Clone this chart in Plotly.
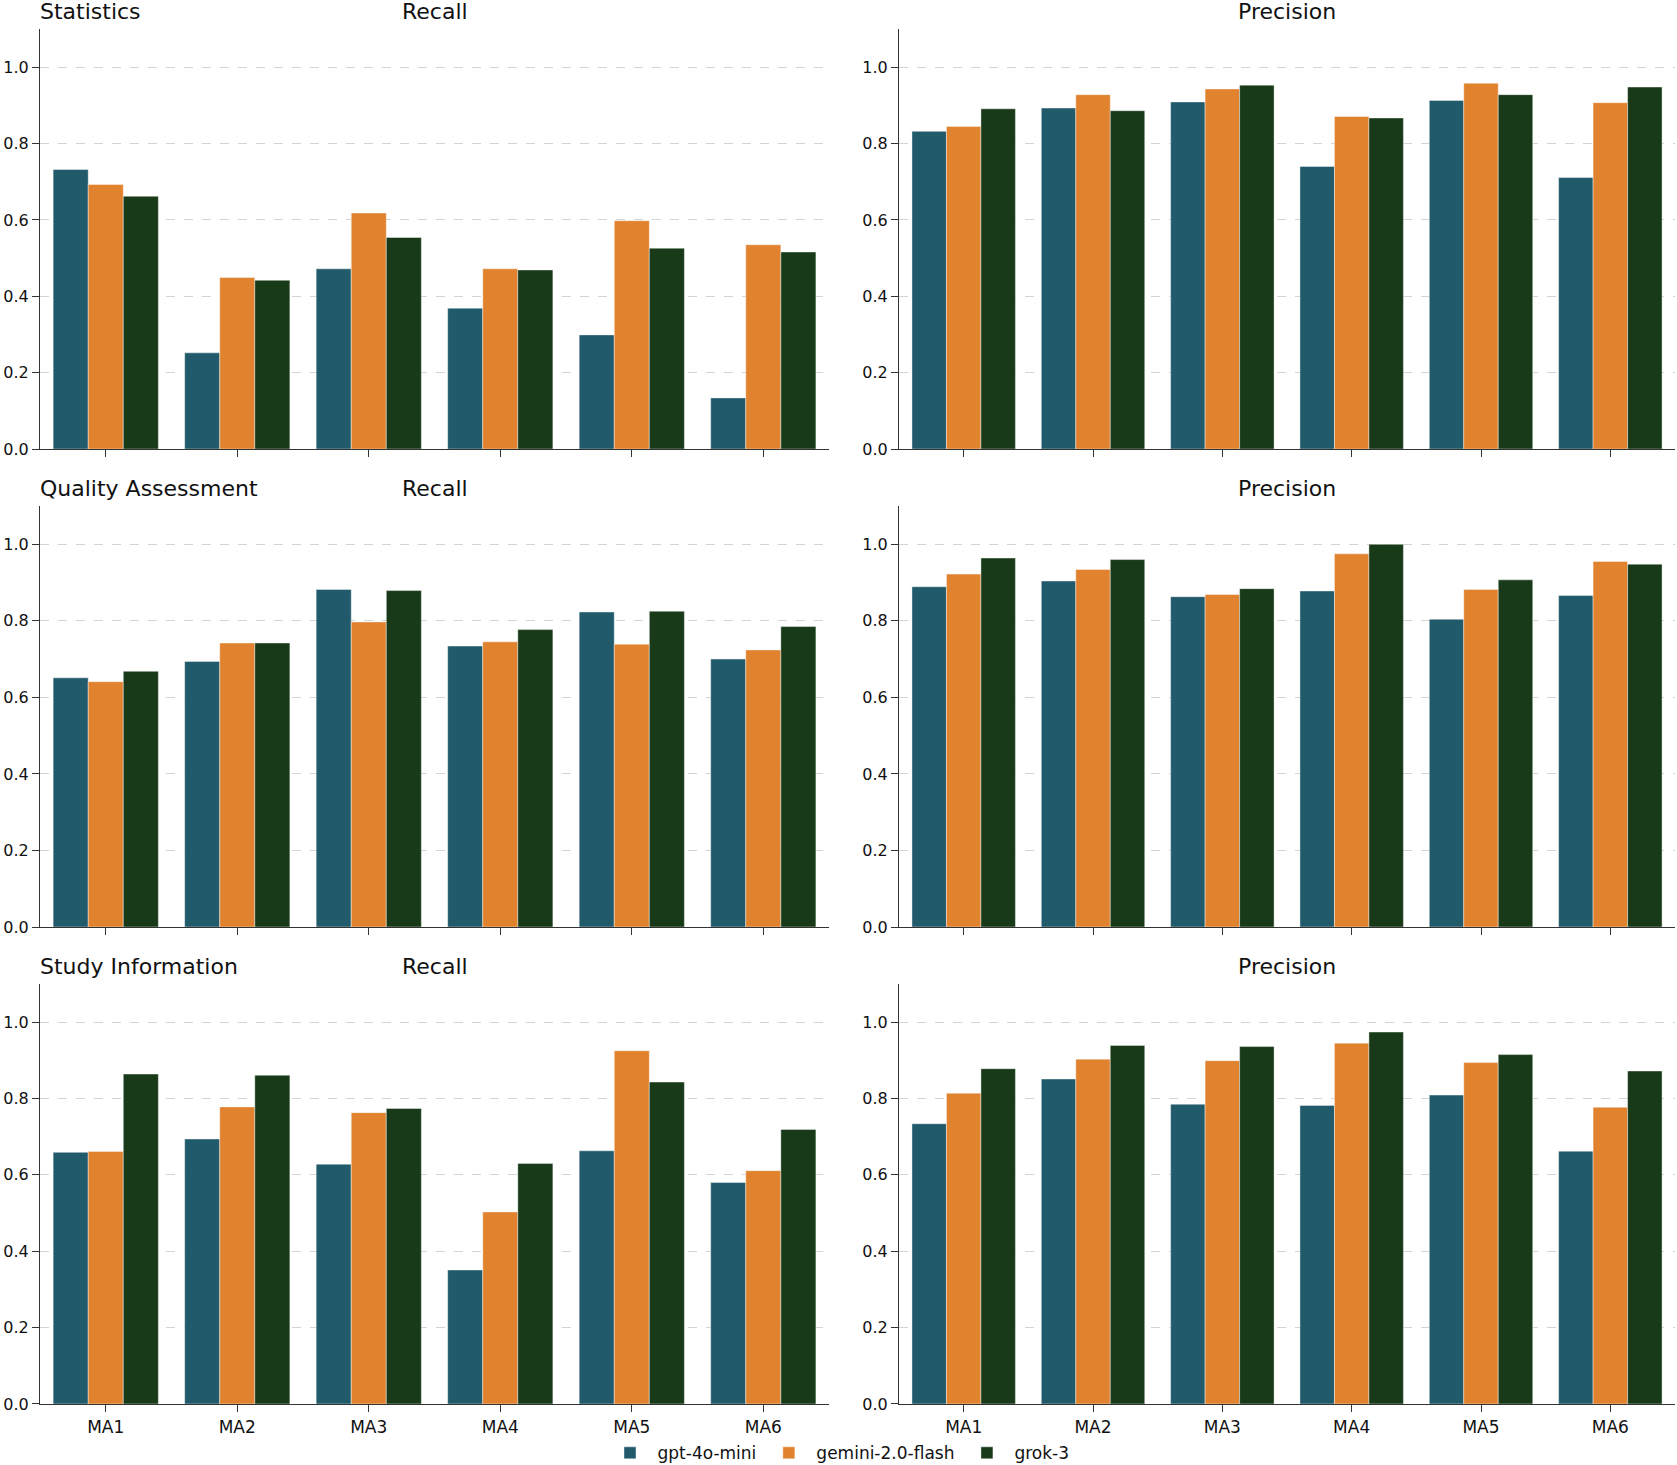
import plotly.graph_objects as go

# categories and models
ma_labels = ["MA1", "MA2", "MA3", "MA4", "MA5", "MA6"]
models = ["gpt-4o-mini", "gemini-2.0-flash", "grok-3"]
colors = ["#215a6b", "#e0822e", "#183a18"]

# values, one row per model (gpt, gemini, grok)
stats_recall = [
    [0.732, 0.252, 0.472, 0.369, 0.299, 0.134],
    [0.693, 0.449, 0.618, 0.472, 0.598, 0.535],
    [0.662, 0.442, 0.554, 0.469, 0.526, 0.516],
]
stats_precision = [
    [0.832, 0.893, 0.909, 0.740, 0.913, 0.711],
    [0.845, 0.928, 0.943, 0.871, 0.958, 0.907],
    [0.891, 0.886, 0.953, 0.867, 0.928, 0.948],
]
quality_recall = [
    [0.651, 0.694, 0.882, 0.734, 0.823, 0.700],
    [0.641, 0.742, 0.797, 0.745, 0.739, 0.724],
    [0.668, 0.742, 0.879, 0.777, 0.825, 0.785],
]
quality_precision = [
    [0.889, 0.904, 0.863, 0.878, 0.804, 0.866],
    [0.922, 0.934, 0.869, 0.975, 0.882, 0.955],
    [0.964, 0.960, 0.884, 1.000, 0.907, 0.948],
]
study_recall = [
    [0.659, 0.694, 0.628, 0.351, 0.663, 0.580],
    [0.661, 0.778, 0.763, 0.503, 0.925, 0.611],
    [0.864, 0.861, 0.774, 0.630, 0.843, 0.719],
]
study_precision = [
    [0.734, 0.851, 0.785, 0.782, 0.809, 0.662],
    [0.814, 0.903, 0.899, 0.945, 0.894, 0.777],
    [0.878, 0.939, 0.936, 0.974, 0.915, 0.872],
]

sections = ["Statistics", "Quality Assessment", "Study Information"]
panels = [
    [stats_recall, stats_precision],
    [quality_recall, quality_precision],
    [study_recall, study_precision],
]

W, H = 1677, 1465
x_domains = [[0.0, 0.4826], [0.5254, 1.0]]
y_domains = [[0.6945, 1.0], [0.3469, 0.6531], [0.0, 0.3055]]

fig = go.Figure()
font = "DejaVu Sans"
ann = []

n = 0
for r in range(3):
    for c in range(2):
        n += 1
        sfx = "" if n == 1 else str(n)
        data = panels[r][c]
        for k, m in enumerate(models):
            fig.add_trace(go.Bar(
                x=ma_labels, y=data[k], name=m,
                marker=dict(color=colors[k], line=dict(color="rgba(255,255,255,0.7)", width=0.6)),
                legendgroup=m, showlegend=(n == 1),
                xaxis="x" + sfx, yaxis="y" + sfx, offsetgroup=str(k),
            ))
        fig.layout["xaxis" + sfx] = dict(
            domain=x_domains[c], anchor="y" + sfx, type="category",
            range=[-0.5, 5.5], showline=True, linecolor="#333", linewidth=1.2,
            ticks="outside", ticklen=7, tickcolor="#333", showgrid=False,
            showticklabels=(r == 2), tickfont=dict(family=font, size=17, color="#111"),
            zeroline=False, automargin=False,
        )
        fig.layout["yaxis" + sfx] = dict(
            domain=y_domains[r], anchor="x" + sfx, range=[0, 1.1],
            tickvals=[0, 0.2, 0.4, 0.6, 0.8, 1.0], tickformat=".1f",
            showline=True, linecolor="#333", linewidth=1.2,
            ticks="outside", ticklen=7, tickcolor="#333",
            showgrid=True, gridcolor="#d4d4d4", griddash="dash", gridwidth=0.8,
            zeroline=False, tickfont=dict(family=font, size=16, color="#111"),
            automargin=False,
        )
        ann.append(dict(
            text="Recall" if c == 0 else "Precision",
            xref="x" + sfx + " domain", yref="y" + sfx + " domain",
            x=0.5, y=1.0, xanchor="center", yanchor="bottom", yshift=3,
            showarrow=False, font=dict(family=font, size=22, color="#111"),
        ))
        if c == 0:
            ann.append(dict(
                text=sections[r],
                xref="x" + sfx + " domain", yref="y" + sfx + " domain",
                x=0.0, y=1.0, xanchor="left", yanchor="bottom", yshift=3, xshift=-2,
                showarrow=False, font=dict(family=font, size=22, color="#111"),
            ))

fig.update_layout(
    template="none",
    width=W, height=H,
    margin=dict(l=40, r=2, t=29, b=61),
    plot_bgcolor="white", paper_bgcolor="white",
    barmode="group", bargap=0.2, bargroupgap=0,
    annotations=ann,
    legend=dict(
        orientation="h", xref="container", yref="container",
        x=0.5, xanchor="center", y=0.008, yanchor="middle",
        font=dict(family=font, size=17, color="#111"), itemwidth=45,
        traceorder="normal", bgcolor="rgba(0,0,0,0)",
    ),
    font=dict(family=font, color="#111"),
)

# drop the page's default body margin so the figure sits at the top-left corner
fig.write_html("out.html", config={"displayModeBar": False},
               post_script="document.body.style.margin='0px';")
